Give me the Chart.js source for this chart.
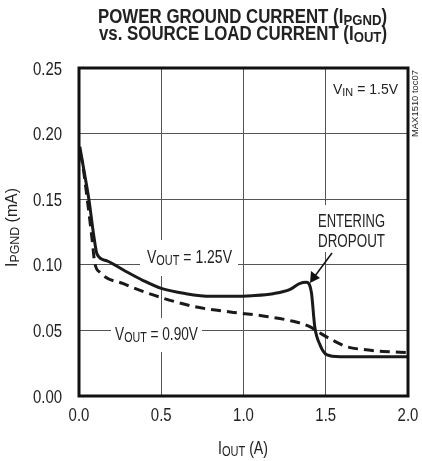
<!DOCTYPE html>
<html>
<head>
<meta charset="utf-8">
<script src="https://cdn.jsdelivr.net/npm/chart.js@4"></script>
<style>
body{margin:0;background:#fff}
#wrap{width:422px;height:461px}
</style>
</head>
<body>
<div id="wrap"><canvas id="canvas" width="422" height="461"></canvas></div>
<script>
// I_OUT (A) vs I_PGND (mA)
let vout125_x=[0.005,0.03,0.06,0.09,0.11,0.17,0.27,0.39,0.5,0.65,0.8,0.95,1.05,1.18,1.28,1.34,1.383,1.413,1.433,1.465,1.505,1.587,1.7,1.85,2.0]
let vout125_y=[0.190,0.172,0.150,0.122,0.108,0.103,0.096,0.088,0.082,0.078,0.076,0.076,0.0765,0.078,0.081,0.0857,0.0867,0.0787,0.053,0.039,0.0316,0.030,0.030,0.030,0.030]
let vout090_x=[0.005,0.02,0.05,0.08,0.095,0.13,0.27,0.49,0.715,0.92,1.12,1.3,1.4,1.465,1.55,1.63,1.73,1.85,2.0]
let vout090_y=[0.185,0.178,0.150,0.119,0.102,0.094,0.0856,0.0754,0.0678,0.064,0.061,0.057,0.053,0.048,0.042,0.0375,0.0354,0.034,0.033]
let x_ticks=[0,0.5,1.0,1.5,2.0]
let y_ticks=[0,0.05,0.10,0.15,0.20,0.25]

let canvas=document.getElementById('canvas')
let narrow='"Liberation Sans", Arial, sans-serif'

function pts(xs,ys){
    return xs.map((x,i)=>({x:x,y:ys[i]}))
}

// text with subscripts, squeezed horizontally by k (or to a target width)
function rich(ctx,parts,x,y,size,bold,width,k){
    let w=0
    parts.forEach(p=>{
        ctx.font=(bold?'bold ':'')+(p.sub?size*0.78:size)+'px '+narrow
        p.w=ctx.measureText(p.t).width
        w+=p.w
    })
    if(width)k=width/w
    if(!k)k=1
    ctx.save()
    ctx.translate(x,y)
    ctx.scale(k,1)
    let cx=0
    parts.forEach(p=>{
        ctx.font=(bold?'bold ':'')+(p.sub?size*0.78:size)+'px '+narrow
        ctx.fillText(p.t,cx,p.sub?size*0.12:0)
        cx+=p.w
    })
    ctx.restore()
    return w*k
}

let notes={
    id:'notes',
    beforeDatasetsDraw(chart){
        let ctx=chart.ctx
        ctx.save()
        ctx.fillStyle='#fff'
        ctx.fillRect(140,240,98,36)
        ctx.fillRect(111,318,91,34)
        ctx.fillRect(312,205,78,47)
        ctx.fillStyle='#222'
        ctx.textBaseline='alphabetic'
        rich(ctx,[{t:'V'},{t:'OUT',sub:1},{t:' = 1.25V'}],147,263,18,false,85)
        rich(ctx,[{t:'V'},{t:'OUT',sub:1},{t:' = 0.90V'}],115,340,18,false,83)
        rich(ctx,[{t:'ENTERING'}],318,227,18,false,67)
        rich(ctx,[{t:'DROPOUT'}],318,247,18,false,67)
        ctx.restore()
    },
    afterDatasetsDraw(chart){
        let ctx=chart.ctx
        let a=chart.chartArea
        ctx.save()
        ctx.strokeStyle='#111'
        ctx.lineWidth=3
        ctx.strokeRect(a.left,a.top,a.right-a.left,a.bottom-a.top)
        // arrow
        ctx.lineWidth=1.5
        ctx.beginPath()
        ctx.moveTo(332,253)
        ctx.lineTo(315,276)
        ctx.stroke()
        ctx.fillStyle='#111'
        ctx.beginPath()
        ctx.moveTo(310,283)
        ctx.lineTo(311,271)
        ctx.lineTo(320,278)
        ctx.closePath()
        ctx.fill()
        ctx.fillStyle='#222'
        // tick labels placed on the chart's own scales
        let sx=chart.scales.x,sy=chart.scales.y
        x_ticks.forEach(v=>{
            let s=v.toFixed(1)
            ctx.font='18px '+narrow
            let w=ctx.measureText(s).width*0.83
            rich(ctx,[{t:s}],sx.getPixelForValue(v)-w/2,421,18,false,0,0.83)
        })
        y_ticks.forEach(v=>{
            let s=v.toFixed(2)
            ctx.font='18px '+narrow
            let w=ctx.measureText(s).width*0.83
            rich(ctx,[{t:s}],62-w,sy.getPixelForValue(v)+6.5,18,false,0,0.83)
        })
        rich(ctx,[{t:'V'},{t:'IN',sub:1},{t:' = 1.5V'}],333,94,15,false,65)
        rich(ctx,[{t:'POWER GROUND CURRENT (I'},{t:'PGND',sub:1},{t:')'}],98,23,19.5,true,289)
        rich(ctx,[{t:'vs. SOURCE LOAD CURRENT (I'},{t:'OUT',sub:1},{t:')'}],99,40,19.5,true,288)
        rich(ctx,[{t:'I'},{t:'OUT',sub:1},{t:' (A)'}],218,454,18,false,50)
        ctx.save()
        ctx.translate(17,267)
        ctx.rotate(-Math.PI/2)
        rich(ctx,[{t:'I'},{t:'PGND',sub:1},{t:' (mA)'}],0,0,17,false,79)
        ctx.restore()
        ctx.save()
        ctx.translate(418,137)
        ctx.rotate(-Math.PI/2)
        rich(ctx,[{t:'MAX1510 toc07'}],0,0,9,false,67)
        ctx.restore()
        ctx.restore()
    }
}

new Chart(canvas,{
    type:'scatter',
    data:{
        datasets:[
            {
                label:'VOUT = 1.25V',
                data:pts(vout125_x,vout125_y),
                showLine:true,
                borderColor:'#1a1a1a',
                borderWidth:3,
                pointRadius:0,
                cubicInterpolationMode:'monotone'
            },
            {
                label:'VOUT = 0.90V',
                data:pts(vout090_x,vout090_y),
                showLine:true,
                borderColor:'#1a1a1a',
                borderWidth:3,
                borderDash:[10,6],
                pointRadius:0,
                cubicInterpolationMode:'monotone'
            }
        ]
    },
    options:{
        responsive:false,
        animation:false,
        layout:{padding:{top:68,right:14,left:0,bottom:0}},
        plugins:{legend:{display:false},tooltip:{enabled:false}},
        scales:{
            x:{
                type:'linear',
                min:0,max:2,
                afterBuildTicks(s){s.ticks=x_ticks.map(v=>({value:v}))},
                afterFit(s){s.height=65},
                border:{display:false},
                grid:{color:'#555',lineWidth:1,drawTicks:false},
                ticks:{display:false}
            },
            y:{
                min:0,max:0.25,
                afterBuildTicks(s){s.ticks=y_ticks.map(v=>({value:v}))},
                afterFit(s){s.width=79},
                border:{display:false},
                grid:{color:'#555',lineWidth:1,drawTicks:false},
                ticks:{display:false}
            }
        }
    },
    plugins:[notes]
})
</script>
</body>
</html>
